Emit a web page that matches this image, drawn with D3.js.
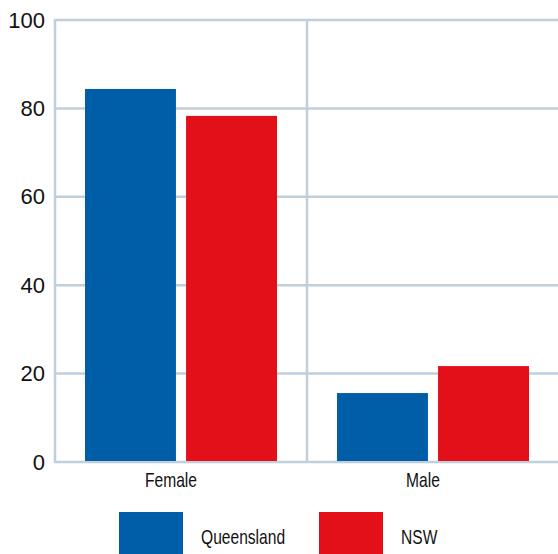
<!DOCTYPE html>
<html>
<head>
<meta charset="utf-8">
<script src="https://cdn.jsdelivr.net/npm/d3@7"></script>
<style>
body { margin: 0; background: #fff; }
svg { display: block; }
.tick text { font-family: "Liberation Sans", Arial, sans-serif; }
.cat { font-family: "Liberation Sans", Arial, sans-serif; }
</style>
</head>
<body>
<svg id="vis-svg" width="558" height="554"></svg>
<script>
// Data
var categories = ['Female', 'Male'];
var seriesNames = ['Queensland', 'NSW'];
var queensland = [84.4, 15.6];
var nsw = [78.3, 21.7];
var yTicks = [0, 20, 40, 60, 80, 100];
var colors = ['#005ea8', '#e3101a'];

var data = categories.map(function(c, i) {
  return {cat: c, values: [queensland[i], nsw[i]]};
});

var svg = d3.select('#vis-svg');
var gridColor = '#bfd0dc';

var x0 = 55, x1 = 558, yTop = 20, yBottom = 462;
var squeeze = 0.78; // condensed look for category/legend text

// Scales
var xScale = d3.scaleBand()
  .domain(categories)
  .range([x0, x1 + 1]);

var subScale = d3.scaleBand()
  .domain(seriesNames)
  .range([30, xScale.bandwidth() - 30])
  .paddingInner(0.1);

var yScale = d3.scaleLinear()
  .domain([0, 100])
  .range([yBottom, yTop]);

// Horizontal grid
svg.append('g')
  .selectAll('line')
  .data(yTicks)
  .enter().append('line')
  .attr('x1', x0).attr('x2', x1)
  .attr('y1', function(d) { return yScale(d); })
  .attr('y2', function(d) { return yScale(d); })
  .attr('stroke', gridColor)
  .attr('stroke-width', 2.5);

// Vertical lines (left axis + category divider)
svg.append('g')
  .selectAll('line')
  .data(categories)
  .enter().append('line')
  .attr('x1', function(d) { return xScale(d); })
  .attr('x2', function(d) { return xScale(d); })
  .attr('y1', yTop - 1).attr('y2', yBottom + 1)
  .attr('stroke', gridColor)
  .attr('stroke-width', 2.5);

// Y axis labels
var yAxis = d3.axisLeft(yScale).tickValues(yTicks).tickSize(0).tickPadding(10);
var yG = svg.append('g')
  .attr('transform', 'translate(' + x0 + ',0)')
  .call(yAxis);
yG.select('.domain').remove();
yG.selectAll('text')
  .attr('font-size', 22)
  .attr('fill', '#111');

// Bars
var groups = svg.append('g')
  .selectAll('g')
  .data(data)
  .enter().append('g')
  .attr('transform', function(d) { return 'translate(' + xScale(d.cat) + ',0)'; });

groups.selectAll('rect')
  .data(function(d) { return d.values.map(function(v, i) { return {name: seriesNames[i], value: v, i: i}; }); })
  .enter().append('rect')
  .attr('x', function(d) { return subScale(d.name); })
  .attr('width', subScale.bandwidth())
  .attr('y', function(d) { return yScale(d.value); })
  .attr('height', function(d) { return yScale(0) - yScale(d.value) - 1; })
  .attr('fill', function(d) { return colors[d.i]; });

// X labels
svg.append('g')
  .selectAll('text')
  .data(categories)
  .enter().append('text')
  .attr('class', 'cat')
  .attr('transform', function(d) {
    return 'translate(' + (xScale(d) + xScale.bandwidth() / 2 - 10) + ',487) scale(' + squeeze + ',1)';
  })
  .attr('text-anchor', 'middle')
  .attr('font-size', 20)
  .attr('fill', '#111')
  .text(function(d) { return d; });

// Legend
var legendX = [119, 319];
var legend = svg.append('g')
  .selectAll('g')
  .data(seriesNames)
  .enter().append('g')
  .attr('transform', function(d, i) { return 'translate(' + legendX[i] + ',512)'; });

legend.append('rect')
  .attr('width', 64)
  .attr('height', 42)
  .attr('fill', function(d, i) { return colors[i]; });

legend.append('text')
  .attr('class', 'cat')
  .attr('transform', 'translate(82,32) scale(' + squeeze + ',1)')
  .attr('font-size', 20)
  .attr('fill', '#111')
  .text(function(d) { return d; });
</script>
</body>
</html>
